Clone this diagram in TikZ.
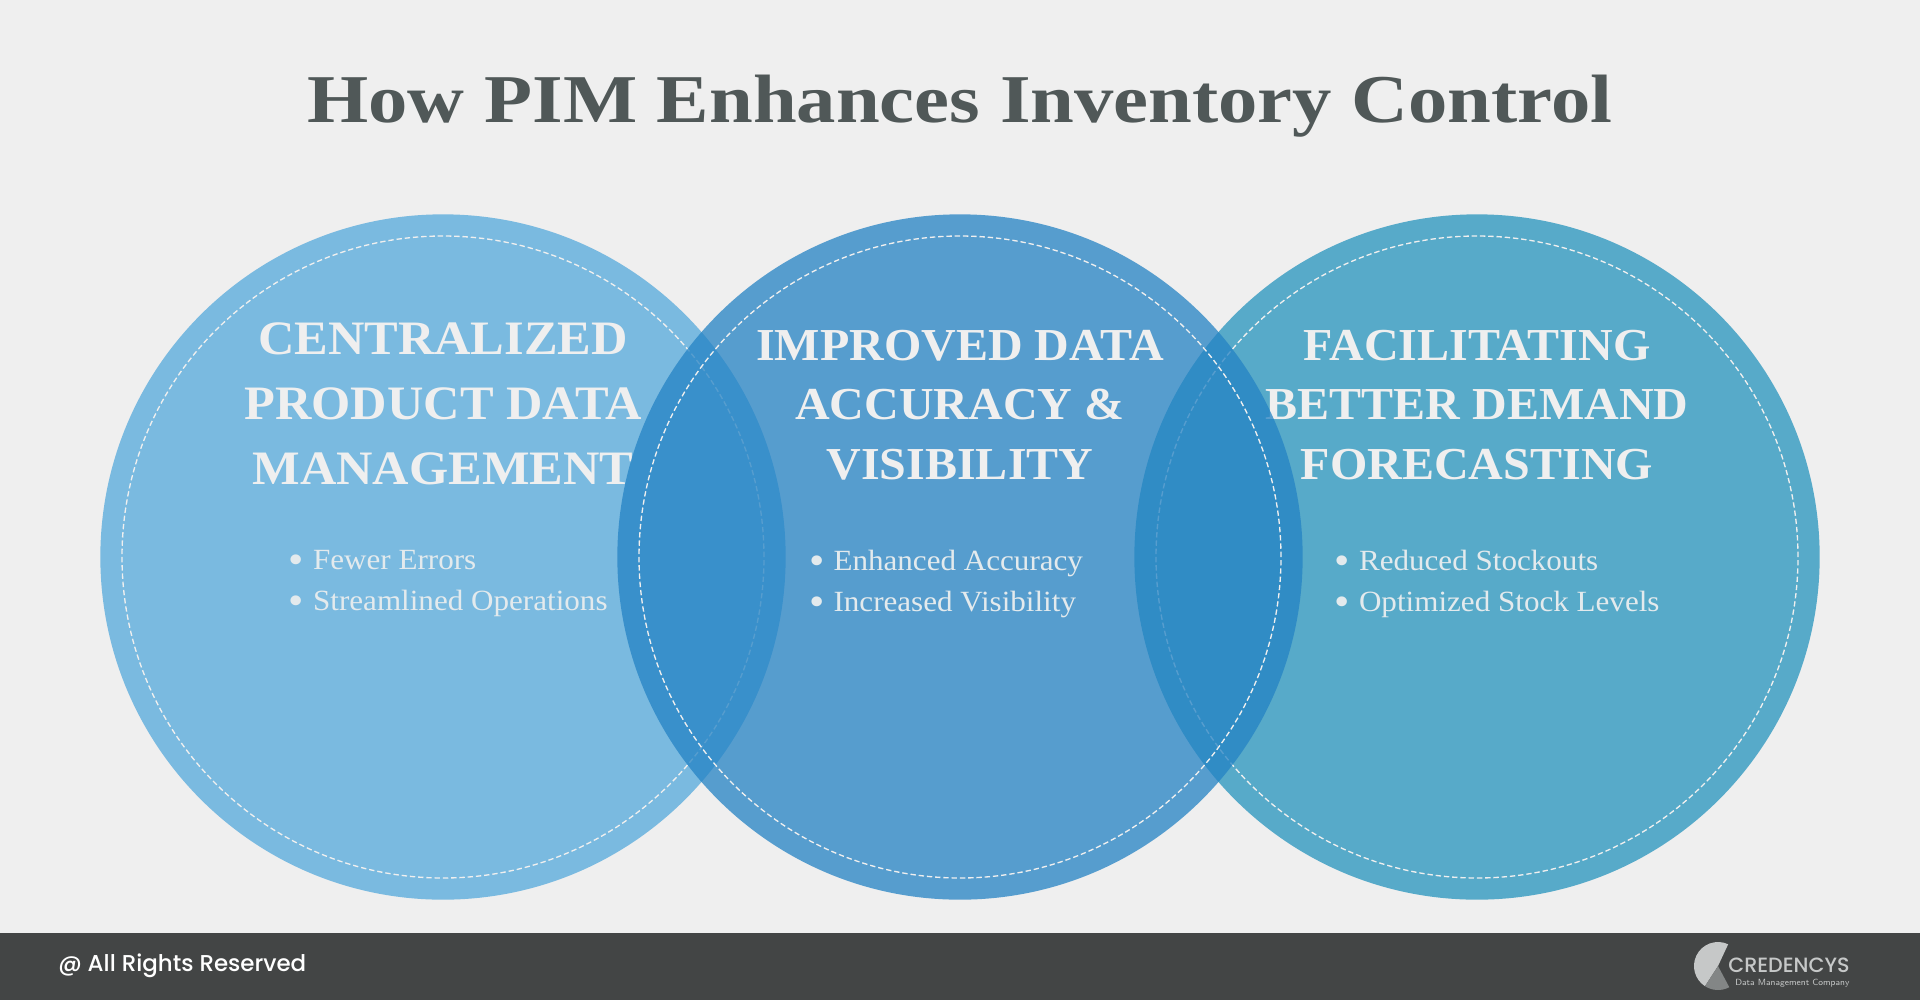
\documentclass[tikz,border=0pt]{standalone}
\usepackage{fontspec}
\usepackage{xcolor}
\usetikzlibrary{positioning,calc}
\setmainfont{Liberation Serif}
\newfontfamily\titlefont[FakeStretch=1.15]{Liberation Serif}
\newfontfamily\headfont[FakeStretch=1.05]{Liberation Serif}
\newfontfamily\itemfont[FakeStretch=1.06]{Liberation Serif}
\newfontfamily\footfont{Poppins Medium}
\definecolor{pagebg}{HTML}{EFEFEF}
\definecolor{footbg}{HTML}{434545}
\definecolor{titlegray}{HTML}{505858}
\definecolor{logolight}{HTML}{C6C8C8}
\definecolor{logodark}{HTML}{838686}
\definecolor{circA}{HTML}{7ABAE0}
\definecolor{circB}{HTML}{2482C4}
\definecolor{circC}{HTML}{57AAC9}
\newcommand{\itembul}{\makebox[18.4pt][l]{\raisebox{-3.2pt}{\fontsize{31}{31}\selectfont\textbullet}}}

\begin{document}
\begin{tikzpicture}[x=0.75pt, y=-0.75pt,
    disc/.style={circle, inner sep=0pt, outer sep=0pt, minimum size=514pt},
    ring/.style={circle, draw=pagebg, line width=1pt, dash pattern=on 4pt off 2.2pt, inner sep=0pt, outer sep=0pt, minimum size=481.5pt},
    head/.style={text=pagebg, align=center, inner sep=0pt, font=\headfont\bfseries\fontsize{34.3}{44.6}\selectfont},
    items/.style={text=pagebg!90!circA, align=left, inner sep=0pt, font=\itemfont\fontsize{22}{30.75}\selectfont}]

    \useasboundingbox (0,0) rectangle (1920,1000);
    \fill[pagebg] (0,0) rectangle (1920,1000);
    \fill[footbg] (0,932.5) rectangle (1920,1000);

    \node[font=\titlefont\bfseries\fontsize{51.3}{60}\selectfont, text=titlegray, inner sep=0pt, anchor=base] (title) at (960,122.5) {How PIM Enhances Inventory Control};

    % left and right circle first, the middle one goes over them
    \node[disc, fill=circA] (c1) at (443,557) {};
    \node[ring] (r1) at (c1) {};
    \node[head, below=81.3pt of c1.north, font=\headfont\bfseries\fontsize{36}{48.75}\selectfont] (h1) {CENTRALIZED\\PRODUCT DATA\\MANAGEMENT};
    \node[items, below=48.2pt of h1, xshift=3.8pt] (l1) {\itembul Fewer Errors\\\itembul Streamlined Operations};

    \node[disc, fill=circC, right=261.5pt of c1] (c3) {};
    \node[ring] (r3) at (c3) {};
    \node[head, below=86.5pt of c3.north] (h3) {FACILITATING\\BETTER DEMAND\\FORECASTING};
    \node[items, below=52.3pt of h3, xshift=15pt] (l3) {\itembul Reduced Stockouts\\\itembul Optimized Stock Levels};

    \node[disc, fill=circB, fill opacity=0.75] (c2) at ($(c1)!0.5!(c3)$) {};
    \node[ring] (r2) at (c2) {};
    \node[head, below=86.5pt of c2.north] (h2) {IMPROVED DATA\\ACCURACY \&\\VISIBILITY};
    \node[items, below=52.3pt of h2, xshift=-10.5pt] (l2) {\itembul Enhanced Accuracy\\\itembul Increased Visibility};

    % footer
    \node[font=\footfont\fontsize{17.2}{20}\selectfont, text=white, inner sep=0pt, anchor=base west] (rights) at (58,971.5) {@ All Rights Reserved};
    \coordinate (lg) at (1718,966);
    \fill[logolight] (lg) -- ++(65:18pt) arc[start angle=65, end angle=237, radius=18pt] -- cycle;
    \fill[logodark] (lg) -- ++(237:18pt) arc[start angle=237, end angle=298, radius=18pt] -- cycle;
    \node[font=\footfont\fontsize{15.5}{17}\selectfont, text=logolight, inner sep=0pt, anchor=base west] (brand) at (1728,972) {CREDENCYS};
    \node[font=\fontsize{6.7}{8}\selectfont\sffamily, text=logolight, inner sep=0pt, anchor=base west] (tag) at (1735,985) {Data Management Company};
\end{tikzpicture}
\end{document}
